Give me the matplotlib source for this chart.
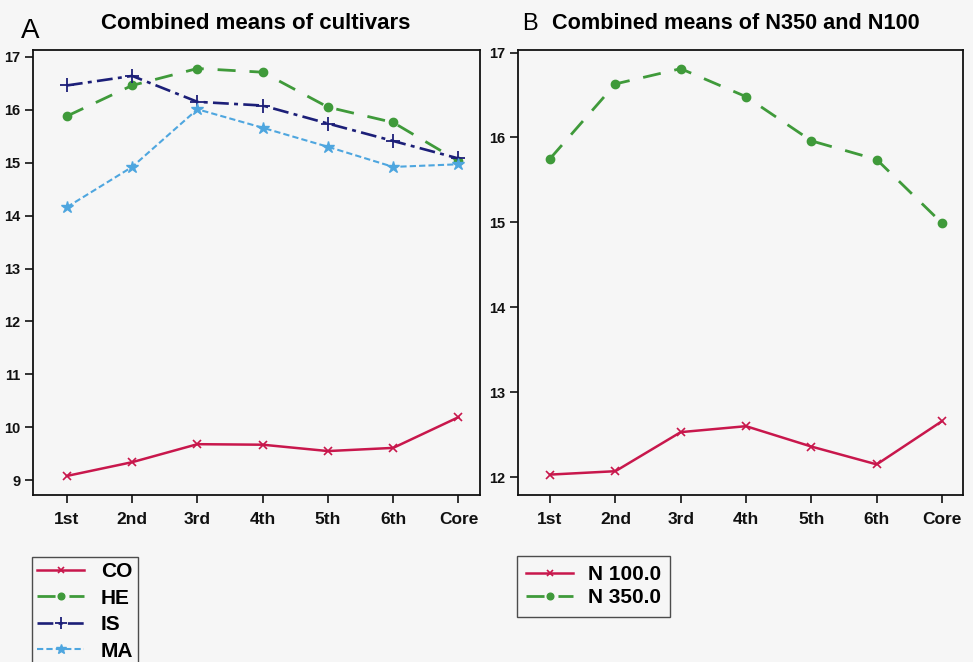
import matplotlib
matplotlib.use("Agg")
import matplotlib.pyplot as plt

plt.rcParams['font.family'] = ['Liberation Sans', 'DejaVu Sans']

fractions = ["1st", "2nd", "3rd", "4th", "5th", "6th", "Core"]

# Panel A: cultivars
co = [9.08, 9.34, 9.68, 9.67, 9.55, 9.61, 10.19]
he = [15.88, 16.46, 16.78, 16.71, 16.05, 15.76, 15.03]
is_ = [16.46, 16.64, 16.15, 16.08, 15.74, 15.41, 15.08]
ma = [14.16, 14.92, 16.01, 15.66, 15.30, 14.92, 14.97]
yticks_a = [9, 10, 11, 12, 13, 14, 15, 16, 17]

# Panel B: N treatments
n100 = [12.03, 12.07, 12.53, 12.60, 12.36, 12.15, 12.66]
n350 = [15.75, 16.63, 16.81, 16.48, 15.96, 15.74, 14.99]
yticks_b = [12, 13, 14, 15, 16, 17]

bg = '#f6f6f6'
c_co = '#c8174c'
c_he = '#3f9a3a'
c_is = '#1c1f78'
c_ma = '#4ea6df'

fig = plt.figure(figsize=(9.73, 6.62), dpi=100, facecolor=bg)
axA = fig.add_axes([0.0339, 0.2523, 0.4594, 0.6722], facecolor=bg)
axB = fig.add_axes([0.5324, 0.2523, 0.4573, 0.6722], facecolor=bg)

x = list(range(len(fractions)))

lA = []
lA += axA.plot(x, co, color=c_co, lw=1.8, marker='x', ms=6, mew=1.2, label='CO')
lA += axA.plot(x, he, color=c_he, lw=2.0, dashes=(6.5, 5), marker='o', ms=6, label='HE')
lA += axA.plot(x, is_, color=c_is, lw=1.9, dashes=(6, 2, 1.5, 2), marker='+', ms=10, mew=1.3, label='IS')
lA += axA.plot(x, ma, color=c_ma, lw=1.5, dashes=(3, 1.5), marker='*', ms=9, label='MA')
axA.set_xlim(-0.52, 6.33)
axA.set_ylim(8.72, 17.13)
axA.set_yticks(yticks_a)

lB = []
lB += axB.plot(x, n100, color=c_co, lw=1.8, marker='x', ms=6, mew=1.2, label='N 100.0')
lB += axB.plot(x, n350, color=c_he, lw=2.0, dashes=(6.5, 5), marker='o', ms=6, label='N 350.0')
axB.set_xlim(-0.49, 6.32)
axB.set_ylim(11.79, 17.03)
axB.set_yticks(yticks_b)

for ax in (axA, axB):
    ax.set_xticks(x)
    ax.set_xticklabels(fractions, fontsize=12.5, fontweight='bold')
    for lab in ax.get_yticklabels():
        lab.set_fontsize(10.5)
        lab.set_fontweight('bold')
    ax.tick_params(axis='both', direction='out', length=6, width=1.2, colors='#111111')
    ax.tick_params(axis='x', pad=6)
    ax.tick_params(axis='y', pad=3)
    for s in ax.spines.values():
        s.set_linewidth(1.3)
        s.set_color('#111111')

fig.text(0.022, 0.9426, 'A', fontsize=20, ha='left', va='baseline')
fig.text(0.263, 0.956, 'Combined means of cultivars', fontsize=16, fontweight='bold', ha='center', va='baseline')
fig.text(0.5365, 0.9547, 'B', fontsize=17, ha='left', va='baseline')
fig.text(0.567, 0.956, 'Combined means of N350 and N100', fontsize=15.6, fontweight='bold', ha='left', va='baseline')

legA = fig.legend(handles=lA, loc='upper left', bbox_to_anchor=(0.0329, 0.1586),
                  frameon=True, fancybox=False, edgecolor='#222222', facecolor=bg,
                  prop={'weight': 'bold', 'size': 15}, handlelength=2.25, markerscale=0.8,
                  labelspacing=0.36, borderpad=0.25, handletextpad=0.8, borderaxespad=0)
legA.get_frame().set_linewidth(1.0)
legB = fig.legend(handles=lB, loc='upper left', bbox_to_anchor=(0.5314, 0.1601),
                  frameon=True, fancybox=False, edgecolor='#222222', facecolor=bg,
                  prop={'weight': 'bold', 'size': 15}, handlelength=2.25, markerscale=0.8,
                  labelspacing=0.18, borderpad=0.45, handletextpad=0.7, borderaxespad=0)
legB.get_frame().set_linewidth(1.0)

fig.savefig('out.png', dpi=100, facecolor=bg)
